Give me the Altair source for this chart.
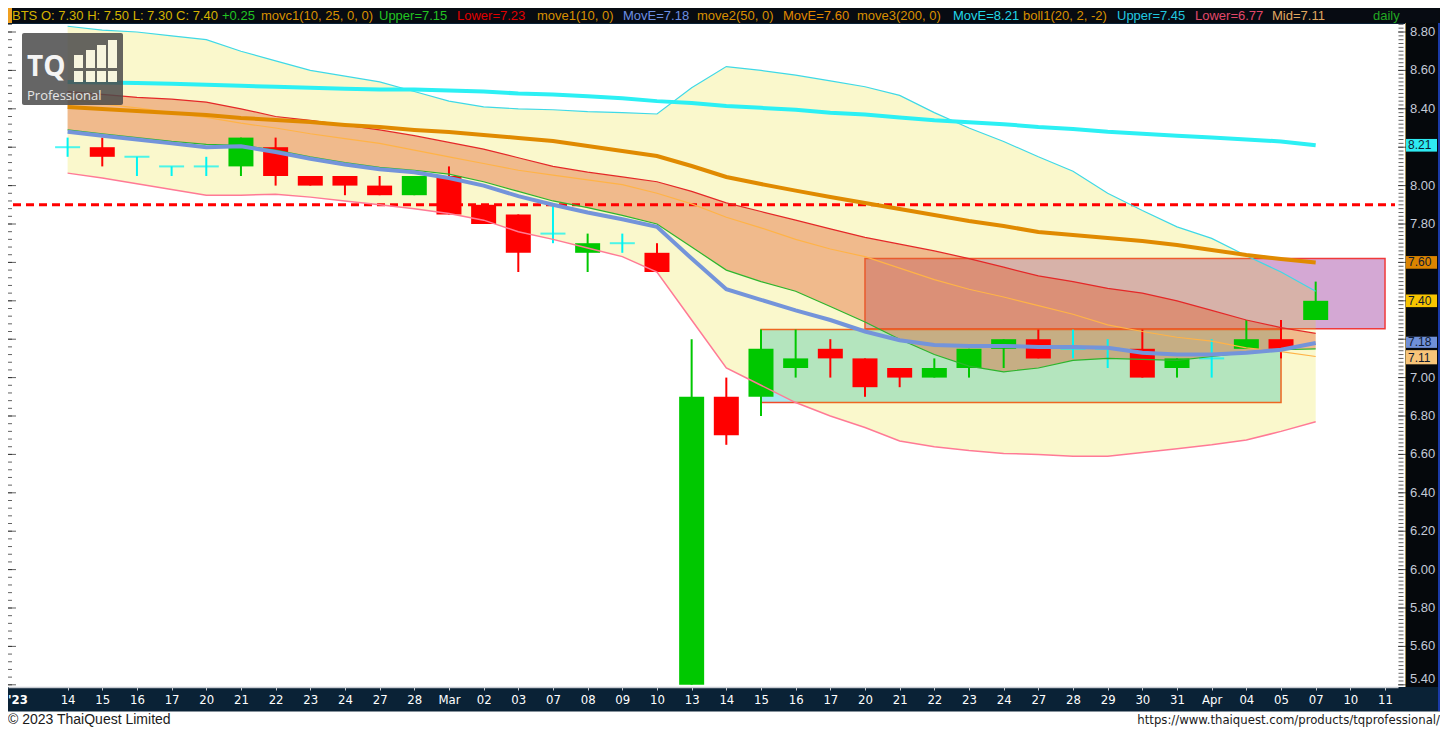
import altair as alt
import numpy as np
import pandas as pd

# ----------------------------- data -----------------------------
year_label = "'23"
date_labels = ["14", "15", "16", "17", "20", "21", "22", "23", "24", "27",
               "28", "Mar", "02", "03", "07", "08", "09", "10", "13", "14",
               "15", "16", "17", "20", "21", "22", "23", "24", "27", "28",
               "29", "30", "31", "Apr", "04", "05", "07", "10", "11"]

opens = [8.20, 8.20, 8.15, 8.10, 8.10, 8.10, 8.20, 8.05, 8.05, 8.00,
         7.95, 8.05, 7.90, 7.85, 7.75, 7.65, 7.70, 7.65, 5.40, 6.90,
         6.90, 7.05, 7.15, 7.10, 7.05, 7.00, 7.05, 7.15, 7.20, 7.15,
         7.15, 7.15, 7.05, 7.10, 7.15, 7.20, 7.30]
highs = [8.25, 8.25, 8.15, 8.10, 8.15, 8.25, 8.25, 8.05, 8.05, 8.05,
         8.05, 8.10, 7.90, 7.85, 7.90, 7.75, 7.75, 7.70, 7.20, 7.00,
         7.25, 7.25, 7.20, 7.10, 7.05, 7.10, 7.15, 7.20, 7.25, 7.25,
         7.20, 7.25, 7.10, 7.20, 7.30, 7.30, 7.50]
lows = [8.15, 8.10, 8.05, 8.05, 8.05, 8.05, 8.00, 8.00, 7.95, 7.95,
        7.95, 7.85, 7.80, 7.55, 7.70, 7.55, 7.65, 7.55, 5.40, 6.65,
        6.80, 7.00, 7.00, 6.90, 6.95, 7.00, 7.00, 7.05, 7.10, 7.10,
        7.05, 7.00, 7.00, 7.00, 7.15, 7.10, 7.30]
closes = [8.20, 8.15, 8.15, 8.10, 8.10, 8.25, 8.05, 8.00, 8.00, 7.95,
          8.05, 7.85, 7.80, 7.65, 7.75, 7.70, 7.70, 7.55, 6.90, 6.70,
          7.15, 7.10, 7.10, 6.95, 7.00, 7.05, 7.15, 7.20, 7.10, 7.15,
          7.15, 7.00, 7.10, 7.10, 7.20, 7.15, 7.40]

# move1(10) - blue
ma10 = [8.28, 8.26, 8.24, 8.22, 8.20, 8.205, 8.175, 8.14, 8.11, 8.085,
        8.07, 8.04, 8.00, 7.945, 7.90, 7.86, 7.825, 7.785, 7.62, 7.46,
        7.405, 7.35, 7.30, 7.24, 7.195, 7.17, 7.165, 7.165, 7.16, 7.16,
        7.155, 7.13, 7.12, 7.12, 7.13, 7.145, 7.18]
# move2(50) - orange
ma50 = [8.409, 8.399, 8.389, 8.378, 8.368, 8.352, 8.342, 8.331, 8.316, 8.305,
        8.290, 8.279, 8.264, 8.248, 8.232, 8.206, 8.180, 8.154, 8.102, 8.045,
        8.008, 7.974, 7.941, 7.909, 7.878, 7.847, 7.816, 7.790, 7.758, 7.743,
        7.727, 7.711, 7.691, 7.665, 7.639, 7.618, 7.600]
# move3(200) - cyan
ma200 = [8.540, 8.537, 8.535, 8.530, 8.525, 8.520, 8.515, 8.510, 8.505, 8.500,
         8.500, 8.495, 8.490, 8.480, 8.475, 8.465, 8.455, 8.440, 8.430, 8.415,
         8.405, 8.395, 8.380, 8.370, 8.355, 8.340, 8.330, 8.320, 8.305, 8.295,
         8.280, 8.270, 8.260, 8.250, 8.240, 8.230, 8.210]
# movc1 envelope: "Lower" (red line) and "Upper" (green line)
env_red = [8.49, 8.475, 8.46, 8.45, 8.435, 8.40, 8.36, 8.34, 8.315, 8.29,
           8.26, 8.225, 8.19, 8.145, 8.10, 8.07, 8.045, 8.02, 7.97, 7.91,
           7.865, 7.82, 7.775, 7.73, 7.695, 7.66, 7.62, 7.575, 7.53, 7.50,
           7.465, 7.44, 7.40, 7.35, 7.30, 7.26, 7.23]
env_green = [8.29, 8.27, 8.25, 8.23, 8.215, 8.21, 8.185, 8.15, 8.12, 8.095,
             8.08, 8.06, 8.02, 7.97, 7.92, 7.885, 7.845, 7.80, 7.68, 7.56,
             7.50, 7.45, 7.37, 7.29, 7.20, 7.12, 7.06, 7.03, 7.05, 7.09,
             7.10, 7.095, 7.09, 7.11, 7.13, 7.145, 7.15]
# boll1(20, 2, -2)
bb_upper = [8.83, 8.81, 8.80, 8.78, 8.76, 8.70, 8.65, 8.60, 8.57, 8.54,
            8.49, 8.44, 8.41, 8.40, 8.395, 8.385, 8.38, 8.373, 8.51, 8.62,
            8.60, 8.575, 8.545, 8.515, 8.47, 8.38, 8.30, 8.23, 8.15, 8.075,
            7.96, 7.87, 7.785, 7.725, 7.635, 7.55, 7.45]
bb_lower = [8.065, 8.04, 8.01, 7.98, 7.95, 7.95, 7.955, 7.94, 7.92, 7.90,
            7.88, 7.855, 7.82, 7.76, 7.72, 7.675, 7.63, 7.55, 7.30, 7.05,
            6.96, 6.87, 6.80, 6.74, 6.67, 6.64, 6.62, 6.605, 6.60, 6.59,
            6.59, 6.61, 6.63, 6.65, 6.675, 6.72, 6.77]
bb_mid = [8.45, 8.425, 8.405, 8.38, 8.355, 8.325, 8.30, 8.27, 8.245, 8.22,
          8.185, 8.15, 8.115, 8.08, 8.055, 8.03, 8.005, 7.96, 7.905, 7.835,
          7.78, 7.72, 7.67, 7.63, 7.57, 7.51, 7.46, 7.42, 7.375, 7.33,
          7.275, 7.24, 7.21, 7.19, 7.155, 7.135, 7.11]

resistance_level = [7.90]
zone_sell = [23, 38, 7.255, 7.62]   # x0, x1 (bar index), y0, y1
zone_buy = [20, 35, 6.87, 7.25]

y_tick_values = [8.80, 8.60, 8.40, 8.20, 8.00, 7.80, 7.60, 7.40, 7.20, 7.00,
                 6.80, 6.60, 6.40, 6.20, 6.00, 5.80, 5.60, 5.40]

header_texts = ["BTS O: 7.30 H: 7.50 L: 7.30 C: 7.40", "+0.25", "movc1(10, 25, 0, 0)",
                "Upper=7.15", "Lower=7.23", "move1(10, 0)", "MovE=7.18", "move2(50, 0)",
                "MovE=7.60", "move3(200, 0)", "MovE=8.21", "boll1(20, 2, -2)",
                "Upper=7.45", "Lower=6.77", "Mid=7.11", "daily"]
header_colors = ["#D4B200", "#22C422", "#D89000", "#22C422", "#E00000", "#D89000",
                 "#6C8FE2", "#D89000", "#E08800", "#D89000", "#22D8E8", "#D89000",
                 "#22C8E0", "#E2486A", "#E0A860", "#22A822"]
header_x = [4, 214, 253, 371, 449, 529, 615, 689, 775, 849, 945, 1015, 1109, 1187, 1264, 1365]

footer_left = "\u00a9 2023 ThaiQuest Limited"
footer_right = "https://www.thaiquest.com/products/tqprofessional/"

# ----------------------------- frames -----------------------------
n = len(closes)
for arr in (opens, highs, lows, ma10, ma50, ma200, env_red, env_green, bb_upper, bb_lower, bb_mid):
    assert len(arr) == n
df = pd.DataFrame({
    "i": np.arange(n), "open": opens, "high": highs, "low": lows, "close": closes,
    "ma10": ma10, "ma50": ma50, "ma200": ma200, "env_red": env_red, "env_green": env_green,
    "bb_up": bb_upper, "bb_lo": bb_lower, "bb_mid": bb_mid,
})
df["dir"] = np.where(df.close > df.open, "up", np.where(df.close < df.open, "down", "flat"))
df["body_lo"] = df[["open", "close"]].min(axis=1)
df["body_hi"] = df[["open", "close"]].max(axis=1)

W, H = 1390, 663
xs = alt.Scale(domain=[-1.575, 38.23], nice=False, zero=False)
ys = alt.Scale(domain=[5.3885, 8.8417], nice=False, zero=False)
label_expr = "[" + ",".join("'" + s + "'" for s in date_labels) + "][datum.value]"
NARROW = "Liberation Sans Narrow, DejaVu Sans Condensed, Arial Narrow, sans-serif"
xaxis = alt.Axis(values=list(range(len(date_labels))), labelExpr=label_expr, title=None,
                 grid=False, domain=True, domainColor="#C8CCD2", domainWidth=1.5,
                 ticks=True, tickColor="#C8CCD2", tickSize=3, labelColor="#FFFFFF",
                 labelFont=NARROW, labelFontSize=13, labelPadding=3, labelBaseline="top",
                 labelOverlap=False, labelBound=False, labelFlush=False)


def X(f):
    return alt.X(f"{f}:Q", scale=xs, axis=xaxis, title=None)


def Y(f):
    return alt.Y(f"{f}:Q", scale=ys, axis=None, title=None)


one = pd.DataFrame({"a": [0]})


def prect(x0, x1, y0, y1, color, opacity=1.0, **kw):
    return alt.Chart(one).mark_rect(color=color, opacity=opacity, **kw).encode(
        x=alt.value(x0), x2=alt.value(x1), y=alt.value(y0), y2=alt.value(y1))


def ptext(text, x, y, **kw):
    return alt.Chart(pd.DataFrame({"t": [text]})).mark_text(**kw).encode(
        x=alt.value(x), y=alt.value(y), text="t:N")


layers = []

# zones (drawn beneath the translucent bands)
zs = pd.DataFrame({"x0": [zone_sell[0]], "x1": [zone_sell[1]], "y0": [zone_sell[2]], "y1": [zone_sell[3]]})
zb = pd.DataFrame({"x0": [zone_buy[0]], "x1": [zone_buy[1]], "y0": [zone_buy[2]], "y1": [zone_buy[3]]})
layers.append(alt.Chart(zs).mark_rect(fill="#D4A8D4", stroke="#F03A3A", strokeWidth=1.5).encode(
    x=X("x0"), x2="x1", y=Y("y0"), y2="y1"))
layers.append(alt.Chart(zb).mark_rect(fill="#A8E8EE", stroke="#F04A2A", strokeWidth=1.5).encode(
    x=X("x0"), x2="x1", y=Y("y0"), y2="y1"))

# bands
layers.append(alt.Chart(df).mark_area(color="#E6DC00", opacity=0.2).encode(
    x=X("i"), y=Y("bb_up"), y2="bb_lo"))
layers.append(alt.Chart(df).mark_area(color="#E15D2C", opacity=0.4).encode(
    x=X("i"), y=Y("env_red"), y2="env_green"))

# resistance dashed line
layers.append(alt.Chart(pd.DataFrame({"level": resistance_level})).mark_rule(
    color="#FF0000", strokeWidth=3, strokeDash=[8, 5]).encode(
    y=Y("level"), x=alt.value(5), x2=alt.value(1387)))

# candles
cscale = alt.Scale(domain=["up", "down", "flat"], range=["#00C800", "#FF0000", "#00F4F4"])
ccol = alt.Color("dir:N", scale=cscale, legend=None)
layers.append(alt.Chart(df).mark_rule(strokeWidth=2).encode(
    x=X("i"), y=Y("low"), y2="high", color=ccol))
layers.append(alt.Chart(df[df.dir != "flat"]).mark_bar(size=25).encode(
    x=X("i"), y=Y("body_lo"), y2="body_hi", color=ccol))
layers.append(alt.Chart(df[df.dir == "flat"]).mark_tick(orient="horizontal", size=25, thickness=2).encode(
    x=X("i"), y=Y("close"), color=ccol))

# indicator lines
for field, col, w in [("bb_up", "#3FD9E6", 1.2), ("bb_lo", "#FF7A95", 1.5), ("bb_mid", "#FFB347", 1.2),
                      ("env_red", "#E42828", 1.2), ("env_green", "#2DB52D", 1.2),
                      ("ma200", "#2CF0F4", 4), ("ma50", "#E08A00", 4), ("ma10", "#7494DA", 4)]:
    layers.append(alt.Chart(df).mark_line(color=col, strokeWidth=w).encode(x=X("i"), y=Y(field)))

# ---- frame decorations ----
# header bar
layers.append(prect(0, 1432, -16, -1, "#070B12"))
layers.append(prect(0, 4, -16, -1, "#F0A020"))
for t, c, hx in zip(header_texts, header_colors, header_x):
    layers.append(ptext(t, hx, -8, align="left", baseline="middle", color=c,
                        font="Liberation Sans", fontSize=13))

# right price strip
layers.append(prect(1390, 1397, 0, H, "#FFFFFF"))
layers.append(prect(1397, 1432, -1, H, "#05080C"))
layers.append(prect(1397, 1398, -1, H, "#A08850"))
layers.append(prect(1430, 1432, -1, H + 24, "#1A3AA8"))

minor_r = pd.DataFrame({"v": np.round(np.arange(5.40, 8.8401, 0.02), 2)})
major_r = pd.DataFrame({"v": np.round(np.arange(5.40, 8.8401, 0.20), 2)})
minor_l = pd.DataFrame({"v": np.round(np.arange(5.40, 8.8401, 0.04), 2)})
layers.append(alt.Chart(minor_r).mark_tick(orient="horizontal", size=5, thickness=1, color="#202020").encode(
    y=Y("v"), x=alt.value(1393)))
layers.append(alt.Chart(major_r).mark_tick(orient="horizontal", size=8, thickness=1, color="#202020").encode(
    y=Y("v"), x=alt.value(1394)))
layers.append(alt.Chart(minor_l).mark_tick(orient="horizontal", size=4, thickness=1, color="#202020").encode(
    y=Y("v"), x=alt.value(2)))
layers.append(alt.Chart(major_r).mark_tick(orient="horizontal", size=8, thickness=1, color="#202020").encode(
    y=Y("v"), x=alt.value(4)))

# last-value badges (they replace the regular price labels that they cover)
badges = [(ma200[-1], "#2EEAF2", 0), (ma50[-1], "#DC8400", 0), (closes[-1], "#F8C400", 0),
          (ma10[-1], "#7090D8", -1.5), (bb_mid[-1], "#F8C478", 1.5)]
badge_vals = [b[0] for b in badges]
shown = [v for v in y_tick_values if min(abs(v - b) for b in badge_vals) > 0.05]
ylab = pd.DataFrame({"v": shown, "t": [f"{v:.2f}" for v in shown]})
layers.append(alt.Chart(ylab.iloc[:-1]).mark_text(align="left", baseline="middle", color="#C4CAD8",
                                                 font="Liberation Sans", fontSize=13).encode(
    x=alt.value(1402), y=Y("v"), text="t:N"))
layers.append(alt.Chart(ylab.iloc[-1:]).mark_text(align="left", baseline="middle", color="#C4CAD8",
                                                 font="Liberation Sans", fontSize=13, dy=-6).encode(
    x=alt.value(1402), y=Y("v"), text="t:N"))

for val, bg, shift in badges:
    bd = pd.DataFrame({"v": [val]})
    layers.append(alt.Chart(bd).transform_calculate(lo="datum.v - 0.033", hi="datum.v + 0.033")
                  .mark_rect(color=bg, yOffset=shift).encode(x=alt.value(1398), x2=alt.value(1429),
                                                            y=Y("lo"), y2=alt.Y2("hi:Q")))
    layers.append(alt.Chart(bd).mark_text(align="left", baseline="middle", color="#0E1A30",
                                          font="Liberation Sans", fontSize=12, dy=shift).encode(
        x=alt.value(1400), y=Y("v"), text=alt.Text("v:Q", format=".2f")))

# year label on the date axis
layers.append(ptext(year_label, 0, 676, align="left", baseline="middle", color="#FFFFFF",
                    font=NARROW, fontSize=13, fontWeight="bold"))

# footer
layers.append(prect(0, 1432, 687.5, 730, "#FFFFFF"))
layers.append(ptext(footer_left, 0, 700, align="left", baseline="alphabetic", color="#1A1A1A",
                    font="Liberation Sans", fontSize=14))
layers.append(ptext(footer_right, 1432, 700, align="right", baseline="alphabetic", color="#1A1A1A",
                    font=NARROW, fontSize=13))

# logo watermark
layers.append(prect(14, 115, 9, 81, "#4A4A4A", opacity=0.85, cornerRadius=2))
for bx0, bx1, by0 in [(66, 75, 31), (78, 87, 26), (89, 98, 21), (100, 109, 16)]:
    layers.append(prect(bx0, bx1, by0, 44, "#FFFCE4", opacity=0.95))
    layers.append(prect(bx0, bx1, 47, 58, "#FFFCE4", opacity=0.95))
layers.append(ptext("TQ", 19, 44, align="left", baseline="middle", color="#F4F4F4",
                    font="Open Sans", fontSize=28, fontWeight="bold"))
layers.append(ptext("Professional", 19, 72, align="left", baseline="middle", color="#E6E6E6",
                    font="Open Sans", fontSize=13))

chart = alt.layer(*layers).properties(
    width=W, height=H,
    padding={"left": 0, "top": 16, "right": 42, "bottom": 41},
    autosize=alt.AutoSizeParams(type="none"),
    background="#0A2236",
).configure_view(fill="#FFFFFF", stroke=None)

chart.save("out.html", embed_options={"renderer": "svg", "actions": False})
